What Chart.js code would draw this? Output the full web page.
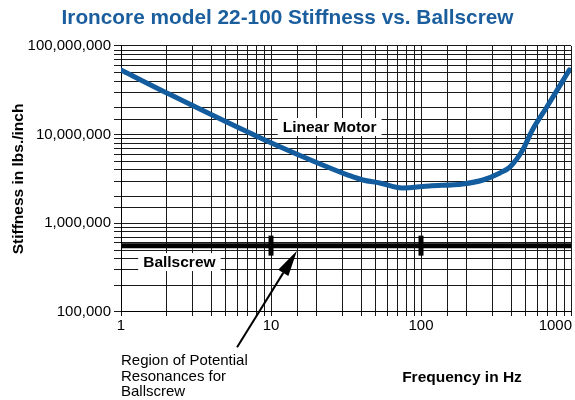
<!DOCTYPE html>
<html>
<head>
<meta charset="utf-8">
<script src="https://cdn.jsdelivr.net/npm/chart.js@4.4.0/dist/chart.umd.min.js"></script>
<style>
html, body { margin: 0; padding: 0; background: #fff; }
</style>
</head>
<body>
<canvas id="myChart" width="575" height="400"></canvas>
<script>
"use strict";
// linear motor stiffness curve
var freqHz = [1, 2.02, 9.1, 24.7, 32.6, 41, 53, 75, 114, 190, 259, 336, 391, 476, 553, 690, 975];
var motorStiffness = [5.36e7, 2.95e7, 8.7e6, 4.2e6, 3.5e6, 3.08e6, 2.85e6, 2.5e6, 2.64e6, 2.78e6, 3.08e6, 3.7e6, 4.3e6, 6.7e6, 1.13e7, 2.05e7, 5.36e7];
// ballscrew is flat across the range
var ballscrewFreq = [1, 1000];
var ballscrewStiffness = 560000;
var resonanceMarks = [10, 100];
var xTickValues = [1, 10, 100, 1000];
var xTickLabels = ["1", "10", "100", "1000"];
var yTickValues = [100000, 1000000, 10000000, 100000000];

// where the notes sit, in data units [Hz, lbs/inch]
var linearMotorAt = [24.6, 1.22e7];
var ballscrewAt = [2.45, 3.66e5];
var arrowTip = [14.9, 4.9e5];
var arrowTail = [5.94, 4.0e4];

var FONT = "'Liberation Sans', Arial, sans-serif";
Chart.defaults.font.family = FONT;
Chart.defaults.color = "#000";

function pts(xs, ys) {
    return xs.map(function (x, i) { return { x: x, y: Array.isArray(ys) ? ys[i] : ys }; });
}

var notes = {
    id: "notes",
    afterDatasetsDraw: function (chart) {
        var c = chart.ctx, xs = chart.scales.x, ys = chart.scales.y, a = chart.chartArea;
        c.save();
        c.font = "bold 15.5px " + FONT;
        c.textAlign = "center";
        c.textBaseline = "middle";
        [["Linear Motor", linearMotorAt], ["Ballscrew", ballscrewAt]].forEach(function (l) {
            var px = xs.getPixelForValue(l[1][0]), py = ys.getPixelForValue(l[1][1]);
            var w = c.measureText(l[0]).width;
            c.fillStyle = "#fff";
            c.fillRect(px - w / 2 - 5, py - 9, w + 10, 18);
            c.fillStyle = "#000";
            c.fillText(l[0], px, py + 1);
        });

        // arrow
        var tx = xs.getPixelForValue(arrowTip[0]), ty = ys.getPixelForValue(arrowTip[1]);
        var sx = xs.getPixelForValue(arrowTail[0]), sy = ys.getPixelForValue(arrowTail[1]);
        var ang = Math.atan2(ty - sy, tx - sx), hl = 26, hw = 6;
        var bx = tx - hl * Math.cos(ang), by = ty - hl * Math.sin(ang);
        c.strokeStyle = "#000";
        c.lineWidth = 2;
        c.beginPath();
        c.moveTo(sx, sy);
        c.lineTo(bx, by);
        c.stroke();
        c.fillStyle = "#000";
        c.beginPath();
        c.moveTo(tx, ty);
        c.lineTo(bx + hw * Math.sin(ang), by - hw * Math.cos(ang));
        c.lineTo(bx - hw * Math.sin(ang), by + hw * Math.cos(ang));
        c.closePath();
        c.fill();

        // x tick labels (last one pulled in so it fits)
        c.font = "15px " + FONT;
        c.textAlign = "left";
        xTickValues.forEach(function (v, i) {
            var px = xs.getPixelForValue(v), w = c.measureText(xTickLabels[i]).width;
            c.fillText(xTickLabels[i], Math.min(px - w / 2, chart.width - 3 - w), a.bottom + 14);
        });

        // free text under the plot
        c.fillText("Region of Potential", a.left, a.bottom + 49);
        c.fillText("Resonances for", a.left, a.bottom + 65);
        c.fillText("Ballscrew", a.left, a.bottom + 80);
        c.font = "bold 15.5px " + FONT;
        c.textAlign = "center";
        c.fillText("Frequency in Hz", 462, a.bottom + 66);
        c.restore();
    }
};

var ctx = document.getElementById("myChart");
var myChart = new Chart(ctx, {
    type: "line",
    data: {
        datasets: [{
            data: pts(freqHz, motorStiffness),
            borderColor: "#135c9e",
            borderWidth: 5,
            borderCapStyle: "round",
            cubicInterpolationMode: "monotone",
            pointRadius: 0
        }, {
            data: pts(ballscrewFreq, ballscrewStiffness),
            borderColor: "#000",
            borderWidth: 5,
            pointRadius: 0
        }, {
            data: pts(resonanceMarks, ballscrewStiffness),
            showLine: false,
            pointStyle: "line",
            rotation: 90,
            pointRadius: 10,
            borderWidth: 5,
            borderColor: "#000"
        }]
    },
    options: {
        responsive: false,
        animation: false,
        layout: { autoPadding: false, padding: { left: 4, right: 4, top: 0, bottom: 0 } },
        plugins: {
            legend: { display: false },
            tooltip: { enabled: false },
            title: {
                display: true,
                text: "Ironcore model 22-100 Stiffness vs. Ballscrew",
                color: "#1b5e9e",
                font: { size: 20.8, weight: "bold" },
                padding: { top: 6, bottom: 15 }
            }
        },
        scales: {
            x: {
                type: "logarithmic",
                min: 1,
                max: 1000,
                grid: { color: "#1a1a1a", lineWidth: 1, tickLength: 4 },
                border: { color: "#000" },
                ticks: { display: false, autoSkip: false },
                afterFit: function (s) {
                    s.height = 88;
                    s.paddingLeft = 0;
                    s.paddingRight = 0;
                }
            },
            y: {
                type: "logarithmic",
                min: 100000,
                max: 100000000,
                grid: { color: "#1a1a1a", lineWidth: 1, tickLength: 7 },
                border: { color: "#000" },
                ticks: {
                    autoSkip: false,
                    padding: 3,
                    font: { size: 15 },
                    callback: function (v) {
                        for (var i = 0; i < yTickValues.length; i++) {
                            if (Math.abs(v - yTickValues[i]) < 1) return yTickValues[i].toLocaleString("en-US");
                        }
                        return "";
                    }
                },
                title: {
                    display: true,
                    text: "Stiffness in lbs./inch",
                    font: { size: 15.5, weight: "bold" },
                    padding: { top: 5, bottom: 0 }
                },
                afterFit: function (s) { s.width = 117; }
            }
        }
    },
    plugins: [notes]
});
</script>
</body>
</html>
